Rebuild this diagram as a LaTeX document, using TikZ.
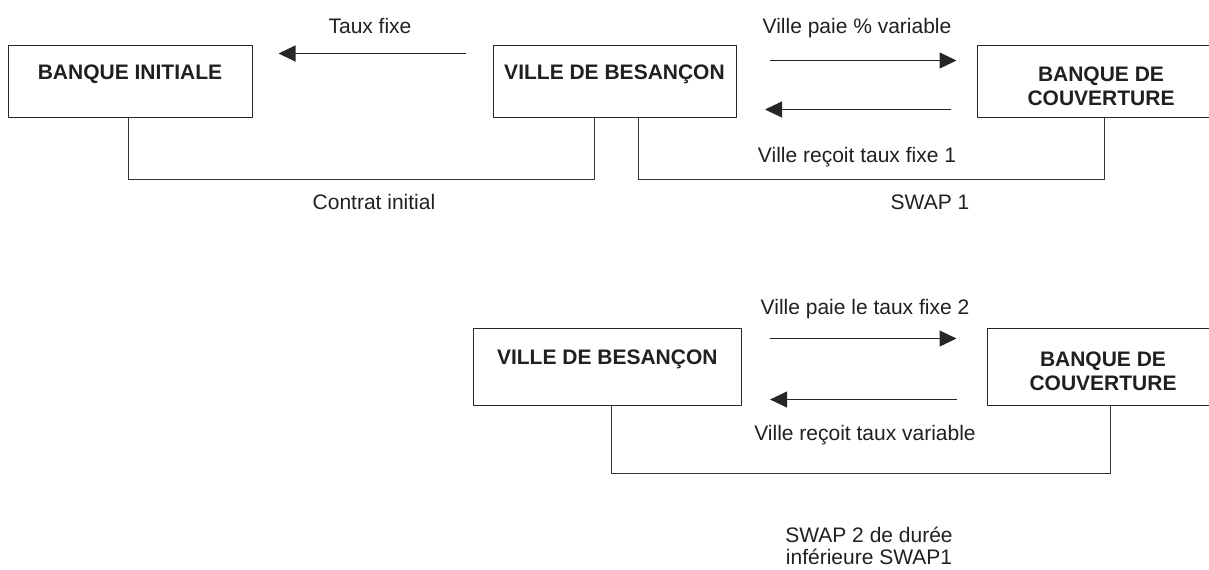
\documentclass[tikz,border=0pt]{standalone}
\usepackage{fontspec}
\setmainfont{Liberation Sans}
\usepackage{tikz}
\usetikzlibrary{arrows.meta,positioning}

\definecolor{ink}{HTML}{231F20}

\tikzset{
  partner/.style={draw=black!85,line width=0.5pt,inner sep=0pt,minimum height=36pt},
  boxtext/.style={inner sep=0pt,align=center,text=ink,font=\fontsize{10.5}{12}\selectfont\bfseries},
  lbl/.style={inner sep=0pt,anchor=base,text=ink,font=\fontsize{10.5}{12}\selectfont},
  link/.style={draw=black!80,line width=0.5pt},
  flow/.style={draw=black!85,line width=0.6pt,->}
}

\begin{document}
\begin{tikzpicture}[line cap=round,line join=round,>={Triangle[length=8.5pt,width=8pt]},x=0.5pt,y=-0.5pt]
\useasboundingbox (0,0) rectangle (1209,569);
\clip (0,0) rectangle (1209,569);
% contrat initial et swap 1
\node[partner,minimum width=122pt] (bi) at (130,81) {};
\node[partner,minimum width=121.5pt] (vb) at (614.5,81) {};
\node[partner,minimum width=124pt] (bc) at (1101,81) {};
\node[boxtext,below=10pt of bi.north] (bit) {BANQUE INITIALE};
\node[boxtext,below=10pt of vb.north] (vbt) {VILLE DE BESAN\c{C}ON};
\node[boxtext,below=11pt of bc.north] (bct) {BANQUE DE\\COUVERTURE};
\draw[flow,shorten <=13.5pt,shorten >=13pt] ([yshift=-4.5pt]vb.north west) -- ([yshift=-4.5pt]bi.north east);
\draw[flow,shorten <=17pt,shorten >=10pt] ([yshift=-8pt]vb.north east) -- ([yshift=-8pt]bc.north west);
\draw[flow,shorten <=13pt,shorten >=14.25pt] ([yshift=4pt]bc.south west) -- ([yshift=4pt]vb.south east);
\draw[link] ([xshift=-1pt]bi.south) -- ++(0,62) -| ([xshift=-10pt]vb.south);
\draw[link] ([xshift=11.75pt]vb.south) -- ++(0,62) -| ([xshift=1.5pt]bc.south);
\node[lbl] (tf) at (370,33) {Taux fixe};
\node[lbl] (pv) at (857,33) {Ville paie \% variable};
\node[lbl] (rf) at (857,162.5) {Ville re\c{c}oit taux fixe 1};
\node[lbl] (ci) at (374,209.5) {Contrat initial};
\node[lbl] (s1) at (930,209.5) {SWAP 1};
% swap 2
\node[partner,minimum width=134.3pt,minimum height=38.5pt] (vb2) at (607.3,366.5) {};
\node[partner,minimum width=116pt,minimum height=38.5pt] (bc2) at (1103,366.5) {};
\node[boxtext,below=11pt of vb2.north] (vbt2) {VILLE DE BESAN\c{C}ON};
\node[boxtext,below=12pt of bc2.north] (bct2) {BANQUE DE\\COUVERTURE};
\draw[flow,shorten <=14pt,shorten >=15pt] ([yshift=-5.5pt]vb2.north east) -- ([yshift=-5.5pt]bc2.north west);
\draw[flow,shorten <=15pt,shorten >=14pt] ([yshift=3pt]bc2.south west) -- ([yshift=3pt]vb2.south east);
\draw[link] ([xshift=2.2pt]vb2.south) -- ++(0,67.5) -| ([xshift=3.5pt]bc2.south);
\node[lbl] (pf) at (865,314.5) {Ville paie le taux fixe 2};
\node[lbl] (rv) at (865,440.5) {Ville re\c{c}oit taux variable};
\node[lbl,anchor=south,align=center,font=\fontsize{10.5}{11}\selectfont] (s2) at (869,565) {SWAP 2 de dur\'ee\\inf\'erieure SWAP1};
\end{tikzpicture}
\end{document}
